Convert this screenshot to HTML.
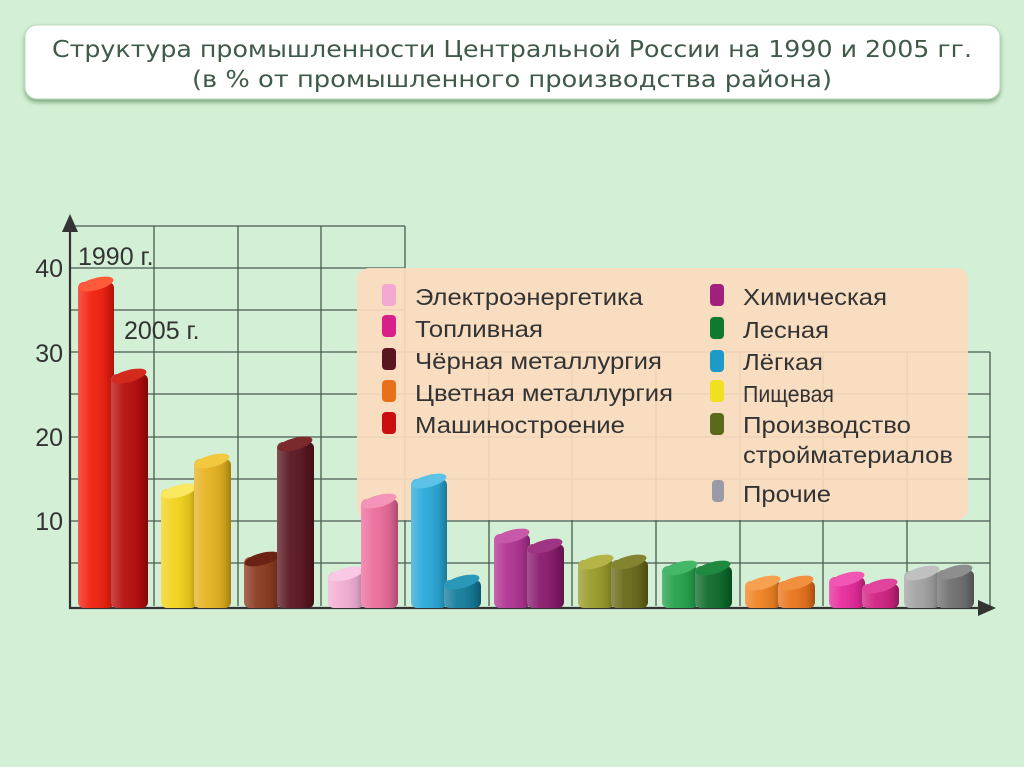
<!DOCTYPE html>
<html><head><meta charset="utf-8"><style>
html,body{margin:0;padding:0;background:#d3efd5;}
svg{display:block}
</style></head><body>
<svg width="1024" height="767" viewBox="0 0 1024 767" xmlns="http://www.w3.org/2000/svg" font-family="Liberation Sans, sans-serif">
<defs>
<linearGradient id="sh" x1="0" x2="1" y1="0" y2="0">
<stop offset="0" stop-color="#fff" stop-opacity="0.25"/>
<stop offset="0.35" stop-color="#fff" stop-opacity="0.05"/>
<stop offset="0.8" stop-color="#000" stop-opacity="0.1"/>
<stop offset="1" stop-color="#000" stop-opacity="0.3"/>
</linearGradient>
<filter id="ds" x="-5%" y="-20%" width="110%" height="150%"><feDropShadow dx="0" dy="3" stdDeviation="2" flood-color="#6a9a6a" flood-opacity="0.8"/></filter>
</defs>
<rect x="0" y="0" width="1024" height="767" fill="#d3efd5"/>
<rect x="25" y="25" width="975" height="74" rx="12" fill="#fff" stroke="#b9d8bd" filter="url(#ds)"/>
<text x="512" y="57" text-anchor="middle" font-family="DejaVu Sans, sans-serif" font-size="23" fill="#3f5a48" textLength="920" lengthAdjust="spacingAndGlyphs">Структура промышленности Центральной России на 1990 и 2005 гг.</text>
<text x="512" y="87" text-anchor="middle" font-family="DejaVu Sans, sans-serif" font-size="23" fill="#3f5a48" textLength="640" lengthAdjust="spacingAndGlyphs">(в % от промышленного производства района)</text>

<g stroke="#4a5a50" stroke-width="1.3" fill="none">
<path d="M70 226H405M70 268H405M70 310H405M70 352H990M70 394H990M70 437H990M70 479H990M70 521H990M70 563H990"/>
<path d="M154 226V606M238 226V606M321 226V606M405 226V606M489 352V606M572 352V606M656 352V606M740 352V606M823 352V606M907 352V606M990 352V606"/>
</g>
<path d="M70 230V608H985" stroke="#333" stroke-width="2.2" fill="none"/>
<path d="M62 232L70 214L78 232Z" fill="#333"/>
<path d="M978 600L996 608L978 616Z" fill="#333"/>
<g font-size="25" fill="#333" text-anchor="end">
<text x="63" y="277">40</text><text x="63" y="362">30</text><text x="63" y="446">20</text><text x="63" y="530">10</text>
</g>
<text x="78" y="265" font-size="25" fill="#333">1990 г.</text>
<text x="124" y="339" font-size="25" fill="#333">2005 г.</text>

<rect x="357" y="268" width="611" height="252" rx="12" fill="#fbdcc0" fill-opacity="0.93"/>

<g>
<rect x="78" y="282" width="36" height="326" rx="6" fill="#f2200e"/><rect x="78" y="282" width="36" height="326" rx="6" fill="url(#sh)"/><ellipse cx="96" cy="284" rx="18" ry="6" transform="rotate(-15 96 284)" fill="#ff5a3a"/>
<rect x="111" y="374" width="37" height="234" rx="6" fill="#b80c0c"/><rect x="111" y="374" width="37" height="234" rx="6" fill="url(#sh)"/><ellipse cx="129" cy="376" rx="18" ry="6" transform="rotate(-15 129 376)" fill="#d42a1e"/>
<rect x="161" y="489" width="36" height="119" rx="6" fill="#f3d21c"/><rect x="161" y="489" width="36" height="119" rx="6" fill="url(#sh)"/><ellipse cx="179" cy="491" rx="18" ry="6" transform="rotate(-15 179 491)" fill="#fae860"/>
<rect x="194" y="459" width="37" height="149" rx="6" fill="#e6b21e"/><rect x="194" y="459" width="37" height="149" rx="6" fill="url(#sh)"/><ellipse cx="212" cy="461" rx="18" ry="6" transform="rotate(-15 212 461)" fill="#f2c840"/>
<rect x="244" y="557" width="36" height="51" rx="6" fill="#8a3a1e"/><rect x="244" y="557" width="36" height="51" rx="6" fill="url(#sh)"/><ellipse cx="262" cy="559" rx="18" ry="6" transform="rotate(-15 262 559)" fill="#6a2214"/>
<rect x="277" y="442" width="37" height="166" rx="6" fill="#5a1620"/><rect x="277" y="442" width="37" height="166" rx="6" fill="url(#sh)"/><ellipse cx="295" cy="444" rx="18" ry="6" transform="rotate(-15 295 444)" fill="#7a2a2a"/>
<rect x="328" y="572" width="36" height="36" rx="6" fill="#f2aed4"/><rect x="328" y="572" width="36" height="36" rx="6" fill="url(#sh)"/><ellipse cx="346" cy="574" rx="18" ry="6" transform="rotate(-15 346 574)" fill="#f8c8e4"/>
<rect x="361" y="499" width="37" height="109" rx="6" fill="#ec6c9c"/><rect x="361" y="499" width="37" height="109" rx="6" fill="url(#sh)"/><ellipse cx="379" cy="501" rx="18" ry="6" transform="rotate(-15 379 501)" fill="#f394b8"/>
<rect x="411" y="479" width="36" height="129" rx="6" fill="#2aa9d9"/><rect x="411" y="479" width="36" height="129" rx="6" fill="url(#sh)"/><ellipse cx="429" cy="481" rx="18" ry="6" transform="rotate(-15 429 481)" fill="#5cc2e6"/>
<rect x="444" y="580" width="37" height="28" rx="6" fill="#137d9c"/><rect x="444" y="580" width="37" height="28" rx="6" fill="url(#sh)"/><ellipse cx="462" cy="582" rx="18" ry="6" transform="rotate(-15 462 582)" fill="#2a98b8"/>
<rect x="494" y="534" width="36" height="74" rx="6" fill="#b03392"/><rect x="494" y="534" width="36" height="74" rx="6" fill="url(#sh)"/><ellipse cx="512" cy="536" rx="18" ry="6" transform="rotate(-15 512 536)" fill="#c858aa"/>
<rect x="527" y="544" width="37" height="64" rx="6" fill="#8a1a6c"/><rect x="527" y="544" width="37" height="64" rx="6" fill="url(#sh)"/><ellipse cx="545" cy="546" rx="18" ry="6" transform="rotate(-15 545 546)" fill="#a03484"/>
<rect x="578" y="560" width="36" height="48" rx="6" fill="#9a9a2a"/><rect x="578" y="560" width="36" height="48" rx="6" fill="url(#sh)"/><ellipse cx="596" cy="562" rx="18" ry="6" transform="rotate(-15 596 562)" fill="#b4b448"/>
<rect x="611" y="560" width="37" height="48" rx="6" fill="#6a6a1a"/><rect x="611" y="560" width="37" height="48" rx="6" fill="url(#sh)"/><ellipse cx="629" cy="562" rx="18" ry="6" transform="rotate(-15 629 562)" fill="#848430"/>
<rect x="662" y="566" width="36" height="42" rx="6" fill="#24a24c"/><rect x="662" y="566" width="36" height="42" rx="6" fill="url(#sh)"/><ellipse cx="680" cy="568" rx="18" ry="6" transform="rotate(-15 680 568)" fill="#44b866"/>
<rect x="695" y="566" width="37" height="42" rx="6" fill="#0e6c2c"/><rect x="695" y="566" width="37" height="42" rx="6" fill="url(#sh)"/><ellipse cx="713" cy="568" rx="18" ry="6" transform="rotate(-15 713 568)" fill="#1e8a40"/>
<rect x="745" y="581" width="36" height="27" rx="6" fill="#f08222"/><rect x="745" y="581" width="36" height="27" rx="6" fill="url(#sh)"/><ellipse cx="763" cy="583" rx="18" ry="6" transform="rotate(-15 763 583)" fill="#f6a050"/>
<rect x="778" y="581" width="37" height="27" rx="6" fill="#ea741c"/><rect x="778" y="581" width="37" height="27" rx="6" fill="url(#sh)"/><ellipse cx="796" cy="583" rx="18" ry="6" transform="rotate(-15 796 583)" fill="#f29040"/>
<rect x="829" y="577" width="36" height="31" rx="6" fill="#e82a9c"/><rect x="829" y="577" width="36" height="31" rx="6" fill="url(#sh)"/><ellipse cx="847" cy="579" rx="18" ry="6" transform="rotate(-15 847 579)" fill="#f256b4"/>
<rect x="862" y="584" width="37" height="24" rx="6" fill="#d02282"/><rect x="862" y="584" width="37" height="24" rx="6" fill="url(#sh)"/><ellipse cx="880" cy="586" rx="18" ry="6" transform="rotate(-15 880 586)" fill="#e0449c"/>
<rect x="904" y="571" width="36" height="37" rx="6" fill="#a2a2a2"/><rect x="904" y="571" width="36" height="37" rx="6" fill="url(#sh)"/><ellipse cx="922" cy="573" rx="18" ry="6" transform="rotate(-15 922 573)" fill="#c0c0c0"/>
<rect x="937" y="570" width="37" height="38" rx="6" fill="#707070"/><rect x="937" y="570" width="37" height="38" rx="6" fill="url(#sh)"/><ellipse cx="955" cy="572" rx="18" ry="6" transform="rotate(-15 955 572)" fill="#8e8e8e"/>
</g>

<g>
<rect x="382" y="284" width="14" height="22" rx="4" fill="#f2a8d0"/>
<rect x="382" y="315" width="14" height="22" rx="4" fill="#d8208a"/>
<rect x="382" y="348" width="14" height="22" rx="4" fill="#5a1620"/>
<rect x="382" y="380" width="14" height="22" rx="4" fill="#e8701a"/>
<rect x="382" y="412" width="14" height="22" rx="4" fill="#c80e0e"/>
<rect x="710" y="284" width="14" height="22" rx="4" fill="#a0207e"/>
<rect x="710" y="317" width="14" height="22" rx="4" fill="#0e7a30"/>
<rect x="710" y="350" width="14" height="22" rx="4" fill="#1e9ac8"/>
<rect x="710" y="380" width="14" height="22" rx="4" fill="#f0e020"/>
<rect x="710" y="413" width="14" height="22" rx="4" fill="#5a6a1a"/>
<rect x="712" y="480" width="12" height="22" rx="4" fill="#9a9aa8"/>
</g>
<g font-size="23" fill="#333">
<text x="415" y="305" textLength="228" lengthAdjust="spacingAndGlyphs">Электроэнергетика</text>
<text x="415" y="337" textLength="128" lengthAdjust="spacingAndGlyphs">Топливная</text>
<text x="415" y="369" textLength="247" lengthAdjust="spacingAndGlyphs">Чёрная металлургия</text>
<text x="415" y="401" textLength="258" lengthAdjust="spacingAndGlyphs">Цветная металлургия</text>
<text x="415" y="433" textLength="210" lengthAdjust="spacingAndGlyphs">Машиностроение</text>
<text x="743" y="305" textLength="144" lengthAdjust="spacingAndGlyphs">Химическая</text>
<text x="743" y="338" textLength="86" lengthAdjust="spacingAndGlyphs">Лесная</text>
<text x="743" y="370" textLength="80" lengthAdjust="spacingAndGlyphs">Лёгкая</text>
<text x="743" y="402" textLength="91" lengthAdjust="spacingAndGlyphs">Пищевая</text>
<text x="743" y="433" textLength="168" lengthAdjust="spacingAndGlyphs">Производство</text>
<text x="743" y="463" textLength="210" lengthAdjust="spacingAndGlyphs">стройматериалов</text>
<text x="743" y="502" textLength="88" lengthAdjust="spacingAndGlyphs">Прочие</text>
</g>
</svg>
</body></html>
